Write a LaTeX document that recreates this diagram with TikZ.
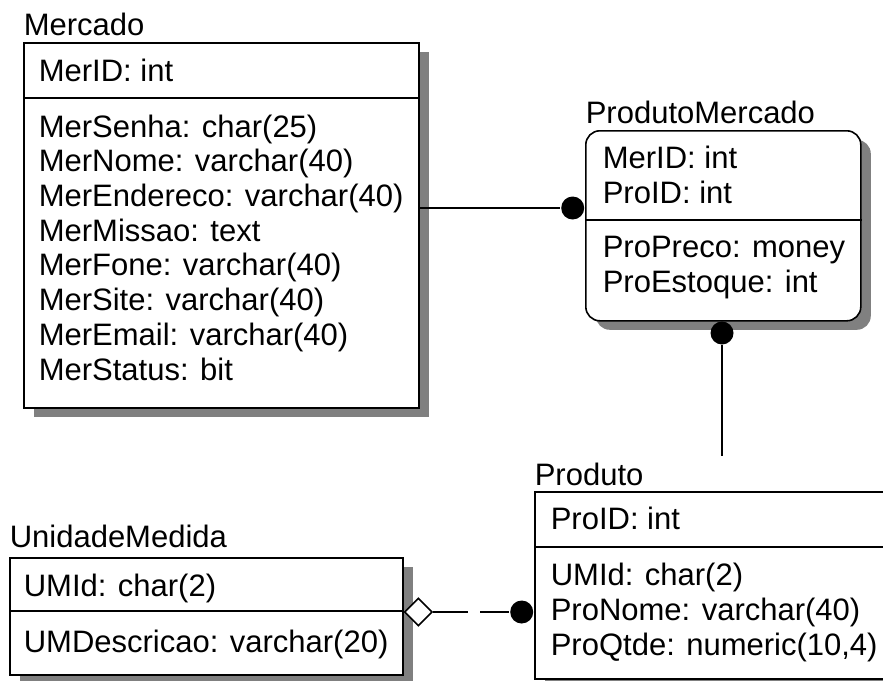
\documentclass[tikz,border=0pt]{standalone}
\usepackage{fontspec}
\setmainfont{Liberation Sans}
\usepackage{tikz}
\usetikzlibrary{shadows,shapes.geometric}

\tikzset{
  entity/.style={draw, fill=white, anchor=north west, inner sep=0pt,
    drop shadow={shadow xshift=10pt, shadow yshift=-9pt, fill=black!50, opacity=1}},
  ename/.style={anchor=base west, inner sep=0pt},
  fields/.style={anchor=base west, inner sep=0pt, align=left},
  dot/.style={circle, fill=black, inner sep=0pt, minimum size=23pt},
  aggr/.style={diamond, draw, fill=white, inner sep=0pt, minimum width=28pt, minimum height=28pt}
}

\begin{document}
\begin{tikzpicture}[%
  x=1pt, y=-1pt, line width=1.6pt,
  font=\fontsize{31}{34.7}\selectfont
  ]
  \path[use as bounding box, clip] (0,0) rectangle (883,680);
  \fill[white] (0,0) rectangle (883,680);

  % Mercado
  \node[ename] (mercado) at (23,35) {Mercado};
  \node[entity, minimum width=395pt, minimum height=365pt] (mer) at (23,42) {};
  \draw (mer.west |- 0,98) -- (mer.east |- 0,98);
  \node[fields] (merkey) at (38,81) {MerID: int};
  % base = last line
  \node[fields] (merattr) at (38,380) {MerSenha: char(25)\\MerNome: varchar(40)\\
    MerEndereco: varchar(40)\\MerMissao: text\\MerFone: varchar(40)\\
    MerSite: varchar(40)\\MerEmail: varchar(40)\\MerStatus: bit};

  % ProdutoMercado
  \node[ename] (produtomercado) at (585,123) {ProdutoMercado};
  \node[entity, rounded corners=14pt, minimum width=275pt, minimum height=190pt] (pm) at (585,130) {};
  \draw (pm.west |- 0,220) -- (pm.east |- 0,220);
  \node[fields] (pmkey) at (602,203) {MerID: int\\ProID: int};
  \node[fields] (pmattr) at (602,292) {ProPreco: money\\ProEstoque: int};

  % Produto
  \node[ename] (produto) at (534,485) {Produto};
  \node[entity, minimum width=360pt, minimum height=187pt] (pro) at (534,491) {};
  \draw (pro.west |- 0,547) -- (pro.east |- 0,547);
  \node[fields] (prokey) at (550,529) {ProID: int};
  \node[fields] (proattr) at (550,655) {UMId: char(2)\\ProNome: varchar(40)\\ProQtde: numeric(10,4)};

  % UnidadeMedida
  \node[ename] (unidademedida) at (9,547) {UnidadeMedida};
  \node[entity, minimum width=393pt, minimum height=117pt] (um) at (9,557) {};
  \draw (um.west |- 0,611) -- (um.east |- 0,611);
  \node[fields] (umkey) at (23,596) {UMId: char(2)};
  \node[fields] (umattr) at (23,652) {UMDescricao: varchar(20)};

  % relacionamentos
  \node[dot, anchor=east] (dmer) at (pm.west |- 0,208) {};
  \draw (mer.east |- dmer) -- (dmer);

  \node[dot] (dpro) at (722,333) {};
  \coordinate (proend) at (722,456);
  \draw (dpro) -- (proend);

  \node[aggr, anchor=west] (agg) at (um.east |- 0,612) {};
  \node[dot, anchor=east] (dum) at (pro.west |- agg) {};
  \draw[dash pattern=on 35pt off 12pt on 60pt] (agg.east) -- (dum);
\end{tikzpicture}
\end{document}
